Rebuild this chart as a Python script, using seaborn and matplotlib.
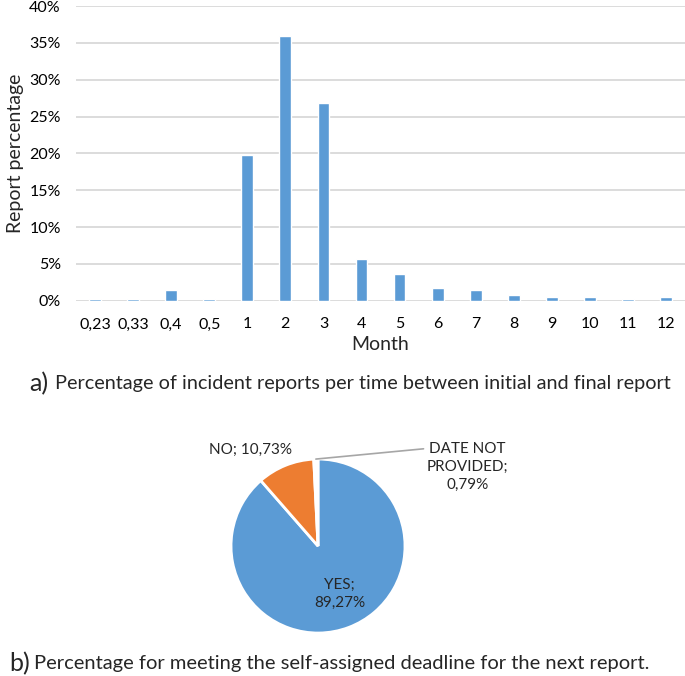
import numpy as np
import matplotlib
matplotlib.use("Agg")
import matplotlib.pyplot as plt
import seaborn as sns
from matplotlib.ticker import FuncFormatter

# data (a) - share of reports per month between initial and final report
months = ["0,23", "0,33", "0,4", "0,5", "1", "2", "3", "4", "5", "6", "7", "8", "9", "10", "11", "12"]
report_pct = [0.3, 0.3, 1.5, 0.3, 19.8, 36.0, 26.9, 5.7, 3.7, 1.8, 1.5, 0.8, 0.5, 0.5, 0.3, 0.5]
y_ticks = [0, 5, 10, 15, 20, 25, 30, 35, 40]

# data (b) - meeting self-assigned deadline
deadline_labels = ["YES", "NO", "DATE NOT\nPROVIDED"]
deadline_pct = [89.27, 10.73, 0.79]
deadline_text = ["89,27%", "10,73%", "0,79%"]

BLUE = "#5B9BD5"
ORANGE = "#ED7D31"

sns.set_theme(style="white")
plt.rcParams['font.family'] = ['Lato', 'DejaVu Sans']

fig = plt.figure(figsize=(6.85, 6.76), dpi=100)

# --- bar chart ---
ax = fig.add_axes([0.111, 0.555, 0.889, 0.436])
sns.barplot(x=months, y=report_pct, color=BLUE, width=0.31, saturation=1, ax=ax, zorder=3)
ax.set_ylim(0, 40)
ax.set_yticks(y_ticks)
ax.yaxis.set_major_formatter(FuncFormatter(lambda v, p: f"{v:.0f}%"))
ax.yaxis.grid(True, color="#D9D9D9", linewidth=1.3, zorder=0)
ax.set_axisbelow(True)
for s in ["top", "right", "left", "bottom"]:
    ax.spines[s].set_visible(False)
ax.tick_params(axis="both", length=0, labelsize=11.5, colors="black")
ax.tick_params(axis="y", pad=11)
ax.tick_params(axis="x", pad=12)
ax.set_xlabel("Month", fontsize=14, labelpad=3)
ax.set_ylabel("Report percentage", fontsize=14, labelpad=4)

fig.text(0.042, 0.433, "a)", fontsize=18, va="center", ha="left")
fig.text(0.080, 0.433, "Percentage of incident reports per time between initial and final report",
         fontsize=14.3, va="center", ha="left")

# --- pie chart ---
pax = fig.add_axes([0.3055, 0.0314, 0.3175, 0.3217])
wedges, _ = pax.pie(deadline_pct, colors=[BLUE, ORANGE, "white"], startangle=90, counterclock=False,
                    wedgeprops={"edgecolor": "white", "linewidth": 2})
pax.set_xlim(-1.25, 1.25)
pax.set_ylim(-1.25, 1.25)
pax.set_aspect("equal")

pax.text(0.25, -0.55, f"{deadline_labels[0]};\n{deadline_text[0]}", ha="center", va="center",
         fontsize=11, linespacing=1.35)
pax.text(-0.78, 1.10, f"{deadline_labels[1]}; {deadline_text[1]}", ha="center", va="center",
         fontsize=11, clip_on=False)
w = wedges[2]
mid = np.deg2rad((w.theta1 + w.theta2) / 2)
pax.annotate(f"{deadline_labels[2]};\n{deadline_text[2]}", xy=(np.cos(mid), np.sin(mid)),
             xytext=(1.72, 0.91), ha="center", va="center", fontsize=11, linespacing=1.35,
             annotation_clip=False,
             arrowprops=dict(arrowstyle="-", color="#A6A6A6", lw=1.2,
                             shrinkA=0, shrinkB=0, relpos=(0.0, 0.87)))

fig.text(0.013, 0.018, "b)", fontsize=18, va="center", ha="left")
fig.text(0.049, 0.018, "Percentage for meeting the self-assigned deadline for the next report.",
         fontsize=14.5, va="center", ha="left")

fig.savefig("out.png", dpi=100)
